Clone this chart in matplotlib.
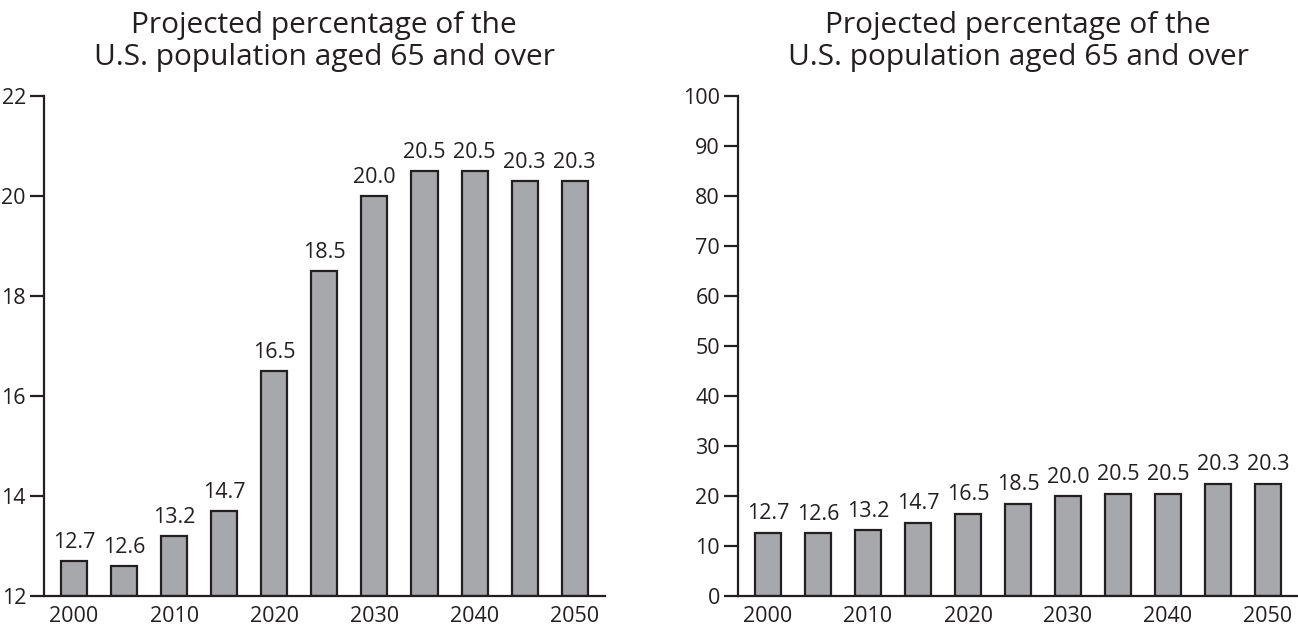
import matplotlib.pyplot as plt

# Data
years = [2000, 2005, 2010, 2015, 2020, 2025, 2030, 2035, 2040, 2045, 2050]
labels = ["12.7", "12.6", "13.2", "14.7", "16.5", "18.5", "20.0", "20.5", "20.5", "20.3", "20.3"]
left_heights = [12.7, 12.6, 13.2, 13.7, 16.5, 18.5, 20.0, 20.5, 20.5, 20.3, 20.3]
right_heights = [12.7, 12.6, 13.2, 14.7, 16.5, 18.5, 20.0, 20.5, 20.5, 22.5, 22.5]
xtick_years = [2000, 2010, 2020, 2030, 2040, 2050]
title = "Projected percentage of the\nU.S. population aged 65 and over"

bar_color = "#a7a8ab"
ink = "#231f20"

plt.rcParams["font.family"] = ["Open Sans", "DejaVu Sans"]

fig = plt.figure(figsize=(12.98, 6.26), dpi=100)
ax1 = fig.add_axes([0.0339, 0.0479, 0.432, 0.7987])
ax2 = fig.add_axes([0.5686, 0.0479, 0.4314, 0.7987])


def draw_panel(ax, heights, ylim, yticks):
    ax.bar(years, [h - ylim[0] for h in heights], bottom=ylim[0], width=2.6,
           color=bar_color, edgecolor=ink, linewidth=1.6, zorder=2)
    for x, h, lab in zip(years, heights, labels):
        ax.annotate(lab, (x, h), xytext=(0, 6), textcoords="offset points",
                    ha="center", va="bottom", fontsize=15.5, color=ink)
    ax.set_xlim(1997, 2053)
    ax.set_ylim(*ylim)
    ax.set_yticks(yticks)
    ax.set_xticks(xtick_years)
    ax.tick_params(axis="y", direction="out", length=10, width=1.6,
                   colors=ink, labelsize=15.5, pad=3)
    ax.tick_params(axis="x", length=0, colors=ink, labelsize=15.5, pad=7)
    for side in ["top", "right"]:
        ax.spines[side].set_visible(False)
    for side in ["left", "bottom"]:
        ax.spines[side].set_linewidth(1.6)
        ax.spines[side].set_color(ink)
    ax.set_title(title, fontsize=21.5, color=ink, pad=22, linespacing=1.15)


draw_panel(ax1, left_heights, (12, 22), [12, 14, 16, 18, 20, 22])
draw_panel(ax2, right_heights, (0, 100), list(range(0, 101, 10)))

fig.savefig("out.png", dpi=100, facecolor="white")
